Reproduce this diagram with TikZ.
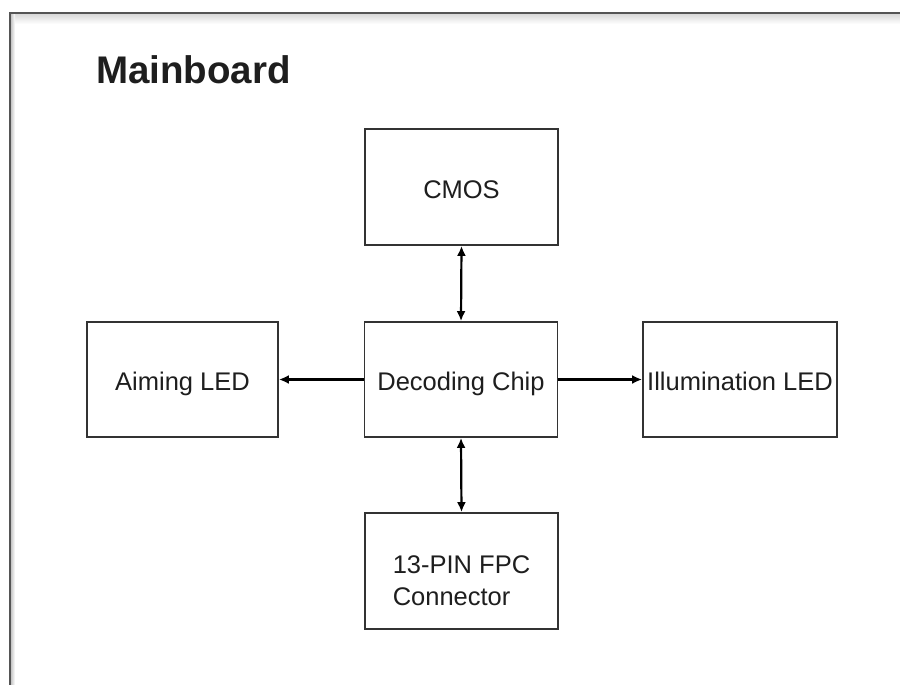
\documentclass[tikz,border=0pt]{standalone}
\usepackage{fontspec}
\setmainfont{Liberation Sans}
\usetikzlibrary{arrows.meta}
\definecolor{framegray}{HTML}{555555}
\definecolor{boxgray}{HTML}{333333}
\definecolor{txt}{HTML}{1E1E1E}
\tikzset{
  blockbox/.style={draw=boxgray, line width=1.8pt, fill=white, inner sep=0pt,
    minimum width=193pt, minimum height=116pt, font=\fontsize{25.5}{32}\selectfont, text=txt,
    text height=22pt, text depth=0pt},
  link/.style={line width=2.2pt, black},
  tip/.style={-{Latex[length=10pt,width=9pt]}},
  tips/.style={{Latex[length=10pt,width=9pt]}-{Latex[length=10pt,width=9pt]}}
}
\begin{document}
\begin{tikzpicture}[x=1pt,y=-1pt]
\useasboundingbox (0,0) rectangle (900,685);
\fill[white] (0,0) rectangle (900,685);
% frame shadow
\shade[top color=black!15, bottom color=white] (11,14) rectangle (900,24);
\shade[left color=black!22, right color=white] (11,14) rectangle (15,685);
% frame
\draw[framegray, line width=2pt] (10,685) -- (10,13) -- (900,13);
% title
\node[anchor=base west, inner sep=0pt, font=\fontsize{38.5}{44}\selectfont\bfseries, text=txt] (title) at (96,84) {Mainboard};
% blocks
\node[blockbox] (cmos) at (461.5,187) {CMOS};
\node[blockbox, minimum height=115pt] (chip) at (461,379.5) {Decoding Chip};
\node[blockbox, minimum width=191pt, minimum height=115pt] (aim) at (182.5,379.5) {Aiming LED};
\node[blockbox, minimum width=194pt, minimum height=115pt] (illum) at (740,379.5) {Illumination LED};
\node[blockbox, align=left, text height=68pt] (fpc) at (461.5,571) {13-PIN FPC\\Connector};
% connectors
\draw[link, tips] (cmos.south) -- (chip.north);
\draw[link, tips] (chip.south) -- (fpc.north);
\draw[link, tip] (chip.west) -- (aim.east);
\draw[link, tip] (chip.east) -- (illum.west);
\end{tikzpicture}
\end{document}
